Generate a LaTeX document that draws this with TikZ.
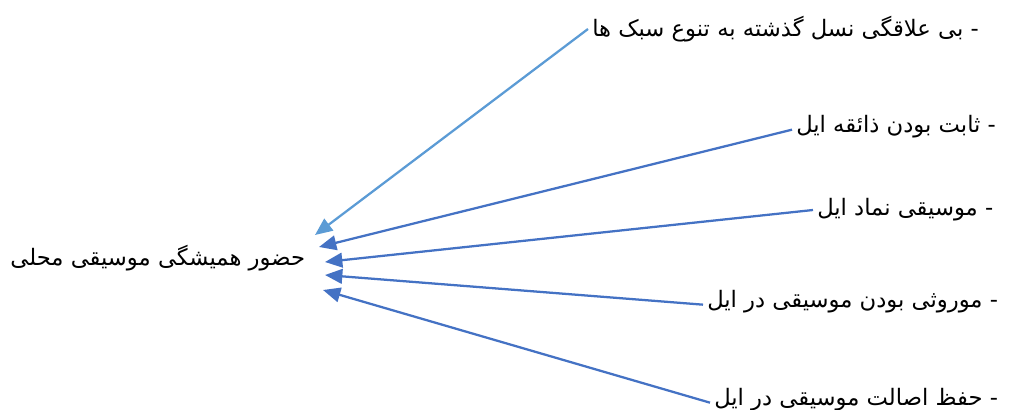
\documentclass[tikz,border=0pt]{standalone}
\usepackage{fontspec}
\usepackage{tikz}
\usetikzlibrary{arrows.meta}
\TeXXeTstate=1
\newfontfamily\arabicfont[Script=Arabic]{DejaVu Sans}
\definecolor{lightblue}{HTML}{5B9BD5}
\definecolor{midblue}{HTML}{4472C4}
\tikzset{
  hub/.style={font=\arabicfont\fontsize{17}{20}\selectfont, anchor=east, inner sep=2pt},
  cause/.style={font=\arabicfont\fontsize{17}{20}\selectfont, anchor=west, inner sep=3pt},
  link/.style={-{Triangle[length=13pt, width=11pt]}, line width=1.7pt, midblue},
}

\begin{document}
\begin{tikzpicture}[x=0.75pt, y=-0.75pt]
    \useasboundingbox (0,0) rectangle (1010,410);
    \node[hub] (presence) at (308,258) {\beginR حضور همیشگی موسیقی محلی\endR};
    \node[cause] (apathy) at (588,29) {\beginR - بی علاقگی نسل گذشته به تنوع سبک ها\endR};
    \node[cause] (taste) at (792,127) {\beginR - ثابت بودن ذائقه ایل\endR};
    \node[cause] (symbol) at (813,210) {\beginR - موسیقی نماد ایل\endR};
    \node[cause] (heritage) at (703,302) {\beginR - موروثی بودن موسیقی در ایل\endR};
    \node[cause] (purity) at (710,400) {\beginR - حفظ اصالت موسیقی در ایل\endR};
    \coordinate (t1) at (315,235);
    \coordinate (t2) at (319,247);
    \coordinate (t3) at (325,262);
    \coordinate (t4) at (325,275);
    \coordinate (t5) at (323,290);
    \draw[link, lightblue] (apathy.west) -- (t1);
    \draw[link] ([yshift=-2pt]taste.west) -- (t2);
    \draw[link] (symbol.west) -- (t3);
    \draw[link] ([yshift=-2pt]heritage.west) -- (t4);
    \draw[link] ([yshift=-2pt]purity.west) -- (t5);
  \end{tikzpicture}
\end{document}
